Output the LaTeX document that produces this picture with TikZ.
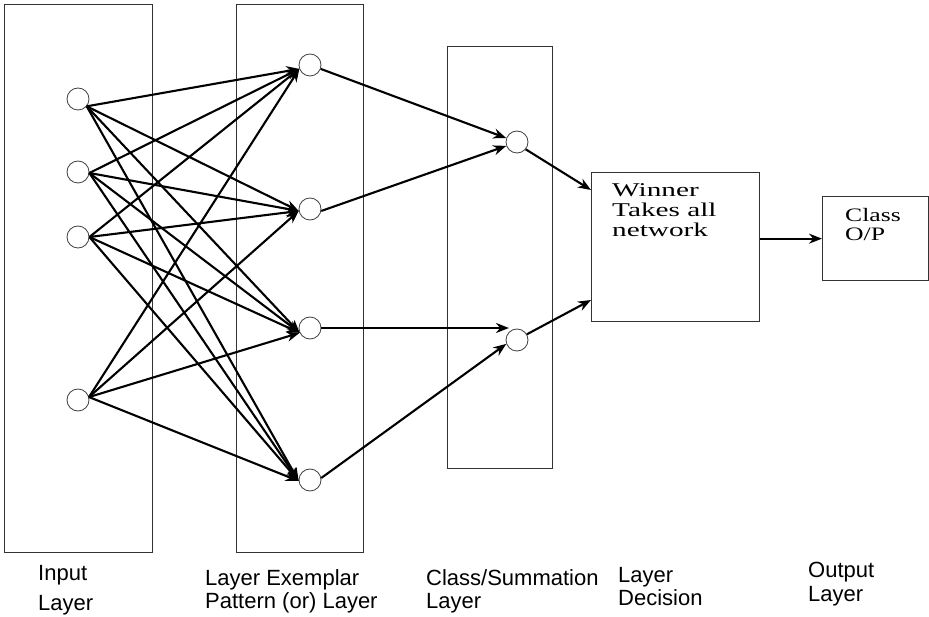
\documentclass[tikz,border=0pt]{standalone}
\usepackage{fontspec}
\setmainfont{Liberation Serif}
\newfontfamily\labfont{Liberation Sans}
\newfontfamily\boxfont[FakeStretch=1.5]{Liberation Serif}
\newfontfamily\clsfont[FakeStretch=1.35]{Liberation Serif}
\usetikzlibrary{arrows.meta}
\begin{document}
\begin{tikzpicture}[x=1pt,y=-1pt,
  layerbox/.style={draw=black!80,line width=1.3pt},
  neuron/.style={circle,draw=black!75,line width=0.8pt,minimum size=22pt,inner sep=0pt,fill=white},
  conn/.style={draw=black,line width=2.1pt,-{Stealth[length=13pt,width=10pt]}},
  lab/.style={font=\labfont\fontsize{22}{23}\selectfont,anchor=base west,inner sep=0pt},
  boxtext/.style={font=\boxfont\fontsize{19.5}{20}\selectfont,anchor=base west,inner sep=0pt},
  clstext/.style={font=\clsfont\fontsize{19}{19}\selectfont,anchor=base west,inner sep=0pt}]
\useasboundingbox (0,0) rectangle (929,617);
% layer boxes
\node[layerbox,minimum width=148pt,minimum height=548pt,anchor=north west,inner sep=0pt] (inbox) at (4,4) {};
\node[layerbox,minimum width=127pt,minimum height=548pt,anchor=north west,inner sep=0pt] (patbox) at (236,4) {};
\node[layerbox,minimum width=105pt,minimum height=422pt,anchor=north west,inner sep=0pt] (sumbox) at (447,46) {};
\node[layerbox,minimum width=168pt,minimum height=149pt,anchor=north west,inner sep=0pt] (win) at (591,172) {};
\node[layerbox,minimum width=106pt,minimum height=84pt,anchor=north west,inner sep=0pt] (cls) at (822,196) {};
% neurons
\node[neuron] (i1) at (78,99) {};
\node[neuron] (i2) at (78,172) {};
\node[neuron] (i3) at (78,237) {};
\node[neuron] (i4) at (78,400) {};
\node[neuron] (p1) at (310,65) {};
\node[neuron] (p2) at (310,209) {};
\node[neuron] (p3) at (310,328) {};
\node[neuron] (p4) at (310,480) {};
\node[neuron] (s1) at (517,142) {};
\node[neuron] (s2) at (517,340) {};
% input -> pattern
\foreach \i/\a in {i1/-40,i2/-5,i3/0,i4/15}{
  \draw[conn] (\i.\a) -- (p1.200);
  \draw[conn] (\i.\a) -- (p2.190);
  \draw[conn] (\i.\a) -- (p3.205);
  \draw[conn] (\i.\a) -- (p4.185);
}
% pattern -> summation
\draw[conn] (p1.-20) -- (s1.160);
\draw[conn] (p2.-10) -- (s1.200);
\draw[conn] (p3.east) -- (p3.east -| s2.north west);
\draw[conn] (p4.10) -- (s2.200);
% summation -> decision
\coordinate (w1) at (591,190);
\coordinate (w2) at (591,300);
\draw[conn] (s1.-40) -- (w1);
\draw[conn] (s2.30) -- (w2);
\draw[conn] (cls.west -| win.east) -- (cls.west);
% box texts
\node[boxtext] (t1) at (612,197) {Winner};
\node[boxtext] (t2) at (612,217) {Takes all};
\node[boxtext] (t3) at (612,237) {network};
\node[clstext] (c1) at (845,222) {Class};
\node[clstext] (c2) at (845,241) {O/P};
% labels
\node[lab] (l1) at (38,580) {Input};
\node[lab] (l2) at (38,610) {Layer};
\node[lab] (l3) at (205,585) {Layer Exemplar};
\node[lab] (l4) at (205,608) {Pattern (or) Layer};
\node[lab] (l5) at (426,585) {Class/Summation};
\node[lab] (l6) at (426,608) {Layer};
\node[lab] (l7) at (618,582) {Layer};
\node[lab] (l8) at (618,605) {Decision};
\node[lab] (l9) at (808,577) {Output};
\node[lab] (l10) at (808,601) {Layer};
\end{tikzpicture}
\end{document}
